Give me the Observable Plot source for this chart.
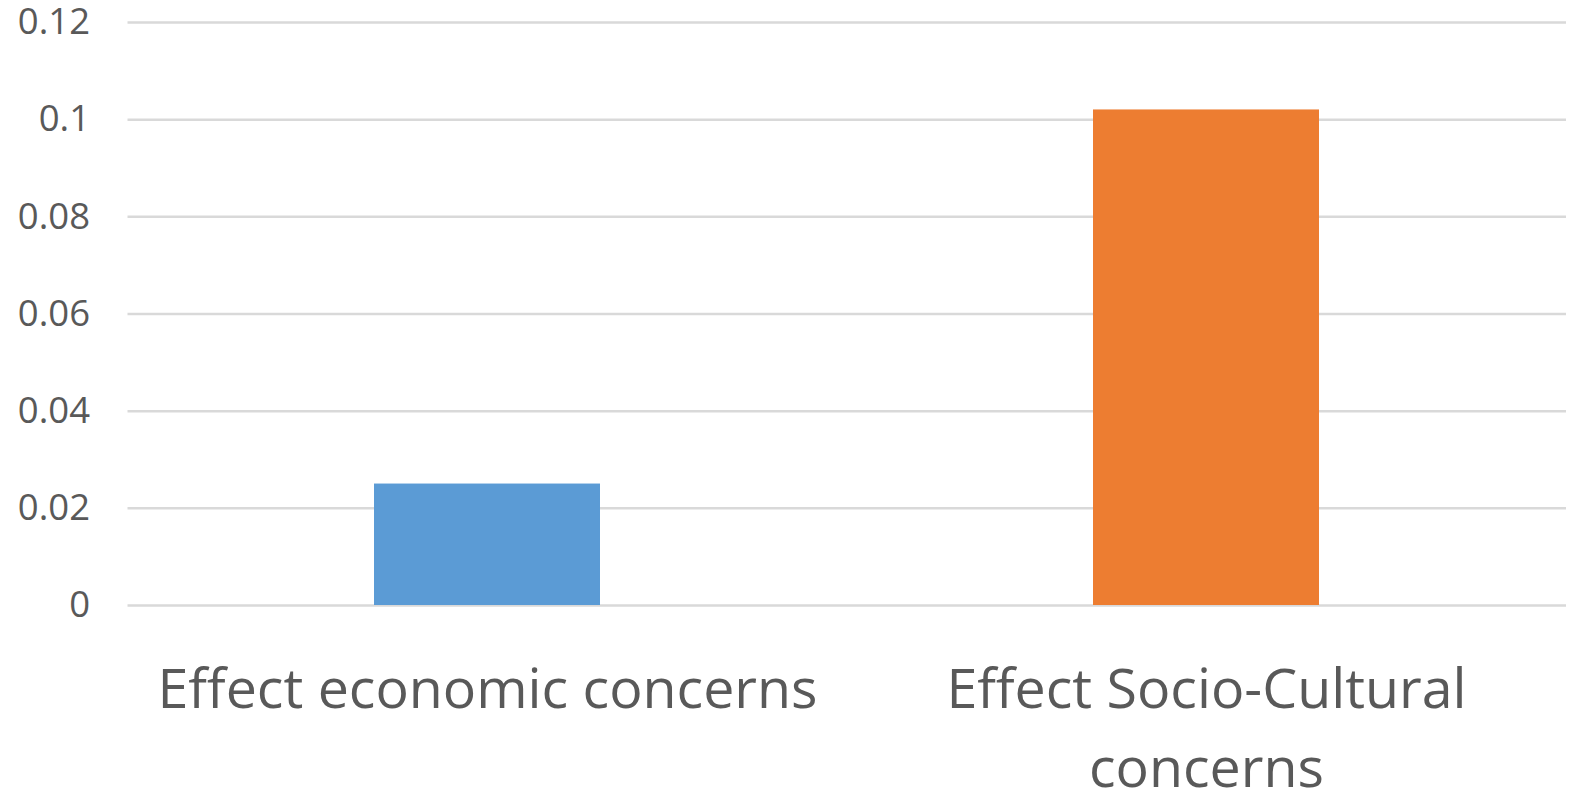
<!DOCTYPE html>
<html><head><meta charset="utf-8">
<script src="https://cdn.jsdelivr.net/npm/d3@7"></script>
<script src="https://cdn.jsdelivr.net/npm/@observablehq/plot@0.6"></script>
<style>body{margin:0;background:#fff;overflow:hidden}</style>
</head><body><div id="chart"></div>
<script>
const categories = ["Effect economic concerns", "Effect Socio-Cultural concerns"];
const values = [0.025, 0.102];
const colors = ["#5B9BD5", "#ED7D31"];
const yTicks = [0, 0.02, 0.04, 0.06, 0.08, 0.1, 0.12];
const xTickLabels = ["Effect economic concerns", "Effect Socio-Cultural\nconcerns"];

const data = categories.map((c, i) => ({category: c, value: values[i], color: colors[i]}));

const chart = Plot.plot({
  width: 1587, height: 790,
  marginLeft: 127.5, marginRight: 21, marginTop: 22, marginBottom: 185,
  style: {fontFamily: "Open Sans", color: "#595959", background: "#fff"},
  x: {domain: categories, paddingInner: 0.686, paddingOuter: 0.343, label: null},
  y: {domain: [0, 0.12], label: null},
  marks: [
    Plot.ruleY(yTicks, {stroke: "#D9D9D9", strokeWidth: 2.5}),
    Plot.barY(data, {x: "category", y: "value", fill: "color"}),
    Plot.axisY({ticks: yTicks, tickSize: 0, tickPadding: 38, fontSize: 36.5, tickFormat: d => String(d), label: null, fill: "#595959"}),
    Plot.axisX({tickSize: 0, tickPadding: 47, fontSize: 55.5, lineHeight: 1.42, tickFormat: d => xTickLabels[categories.indexOf(d)], label: null, fill: "#595959"})
  ]
});
document.getElementById("chart").append(chart);
</script>
</body></html>
